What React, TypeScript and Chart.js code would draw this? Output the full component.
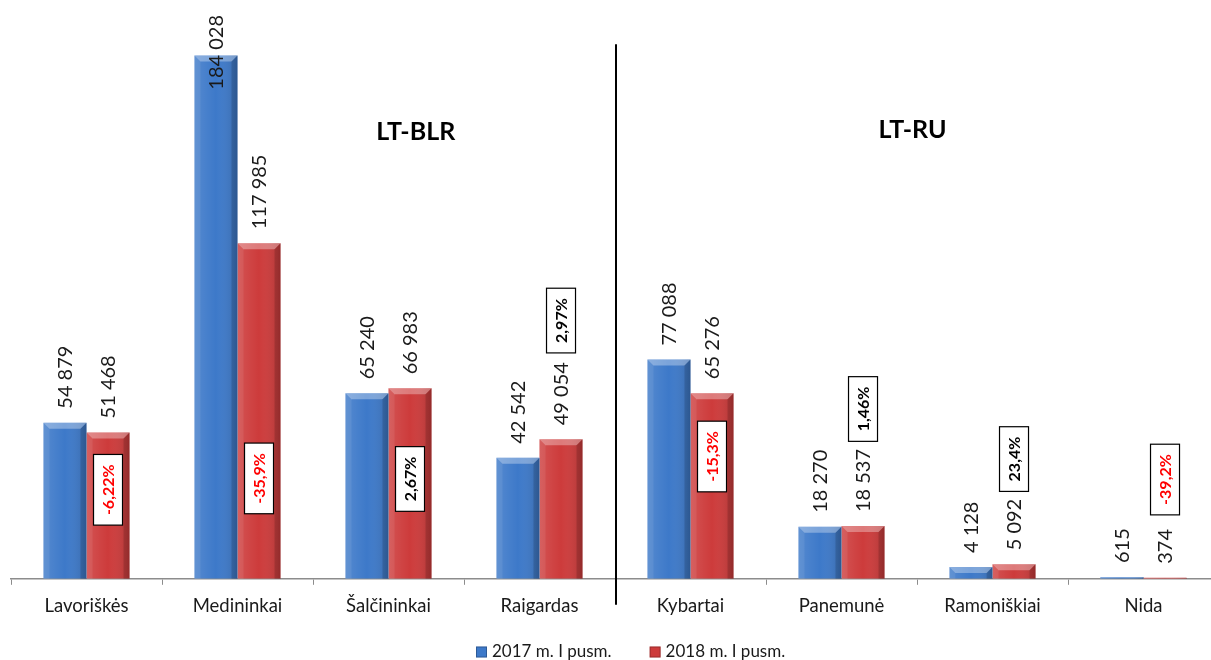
import { useEffect, useRef } from "react";
import { Chart, registerables } from "chart.js";

Chart.register(...registerables);

const categories = ["Lavoriškės", "Medininkai", "Šalčininkai", "Raigardas", "Kybartai", "Panemunė", "Ramoniškiai", "Nida"];
const series2017 = [54879, 184028, 65240, 42542, 77088, 18270, 4128, 615];
const series2018 = [51468, 117985, 66983, 49054, 65276, 18537, 5092, 374];
const changeLabels = ["-6,22%", "-35,9%", "2,67%", "2,97%", "-15,3%", "1,46%", "23,4%", "-39,2%"];
// value level at which each change box is centred
const changeAnchors = [31300, 35300, 35100, 90800, 43000, 59700, 42100, 34900];
const groupTitles = ["LT-BLR", "LT-RU"];
// category position (fractional index) and value level of group titles
const groupTitleAt = [2.18, 5.47];
const groupTitleLevel = [157000, 157700];
const legendLabels = ["2017 m. I pusm.", "2018 m. I pusm."];
const seriesColors = ["#3d79c9", "#cd3b3b"];

const FONT = "Lato, 'Open Sans', sans-serif";

const fmt = (n: number) => n.toString().replace(/\B(?=(\d{3})+(?!\d))/g, " ");

const decorPlugin = {
  id: "decor",
  afterDatasetsDraw(chart: any) {
    const ctx = chart.ctx as CanvasRenderingContext2D;
    const area = chart.chartArea;
    const xs = chart.scales.x;
    const ys = chart.scales.y;

    // bevel shading
    chart.data.datasets.forEach((_ds: any, di: number) => {
      const meta = chart.getDatasetMeta(di);
      meta.data.forEach((bar: any) => {
        const { x, y, base, width } = bar.getProps(["x", "y", "base", "width"], true);
        const l = x - width / 2;
        const r = x + width / 2;
        const h = base - y;
        if (h <= 0) return;
        const b = Math.min(6, h / 2);
        ctx.save();
        const g = ctx.createLinearGradient(l, 0, r, 0);
        g.addColorStop(0, "rgba(255,255,255,0.12)");
        g.addColorStop(0.5, "rgba(255,255,255,0)");
        g.addColorStop(1, "rgba(0,0,0,0.16)");
        ctx.fillStyle = g;
        ctx.fillRect(l, y, width, h);
        ctx.beginPath();
        ctx.moveTo(l, y);
        ctx.lineTo(r, y);
        ctx.lineTo(r - b, y + b);
        ctx.lineTo(l + b, y + b);
        ctx.closePath();
        ctx.fillStyle = "rgba(255,255,255,0.32)";
        ctx.fill();
        ctx.beginPath();
        ctx.moveTo(l, y);
        ctx.lineTo(l + b, y + b);
        ctx.lineTo(l + b, base);
        ctx.lineTo(l, base);
        ctx.closePath();
        ctx.fillStyle = "rgba(255,255,255,0.08)";
        ctx.fill();
        ctx.beginPath();
        ctx.moveTo(r, y);
        ctx.lineTo(r - b, y + b);
        ctx.lineTo(r - b, base);
        ctx.lineTo(r, base);
        ctx.closePath();
        ctx.fillStyle = "rgba(0,0,0,0.14)";
        ctx.fill();
        ctx.restore();
      });
    });

    // value labels (rotated)
    ctx.save();
    ctx.font = `20px ${FONT}`;
    ctx.fillStyle = "#1a1a1a";
    ctx.textAlign = "left";
    ctx.textBaseline = "middle";
    chart.data.datasets.forEach((ds: any, di: number) => {
      const meta = chart.getDatasetMeta(di);
      meta.data.forEach((bar: any, i: number) => {
        const { x, y } = bar.getProps(["x", "y"], true);
        const txt = fmt(ds.data[i]);
        const tw = ctx.measureText(txt).width;
        let yb = y - 14;
        if (yb - tw < area.top + 5) yb = area.top + 5 + tw;
        ctx.save();
        ctx.translate(x, yb);
        ctx.rotate(-Math.PI / 2);
        ctx.fillText(txt, 0, 1);
        ctx.restore();
      });
    });
    ctx.restore();

    // change boxes
    const meta2 = chart.getDatasetMeta(1);
    ctx.save();
    ctx.font = `bold 16px ${FONT}`;
    ctx.textAlign = "center";
    ctx.textBaseline = "middle";
    changeLabels.forEach((lbl, i) => {
      const bar = meta2.data[i];
      const { x } = bar.getProps(["x"], true);
      const cy = ys.getPixelForValue(changeAnchors[i]);
      const tw = ctx.measureText(lbl).width;
      const bh = tw + 20;
      const bw = 29;
      ctx.fillStyle = "#ffffff";
      ctx.fillRect(x - bw / 2, cy - bh / 2, bw, bh);
      ctx.strokeStyle = "#000000";
      ctx.lineWidth = 1.2;
      ctx.strokeRect(x - bw / 2, cy - bh / 2, bw, bh);
      ctx.save();
      ctx.translate(x, cy);
      ctx.rotate(-Math.PI / 2);
      ctx.fillStyle = lbl.startsWith("-") ? "#ff0000" : "#000000";
      ctx.fillText(lbl, 0, 1);
      ctx.restore();
    });
    ctx.restore();

    // separator line
    const sx = Math.round(xs.getPixelForValue(3.5)) + 1;
    ctx.save();
    ctx.strokeStyle = "#000000";
    ctx.lineWidth = 2;
    ctx.beginPath();
    ctx.moveTo(sx, ys.getPixelForValue(188000));
    ctx.lineTo(sx, area.bottom + 26);
    ctx.stroke();
    ctx.restore();

    // group titles
    ctx.save();
    ctx.font = `bold 25px ${FONT}`;
    ctx.fillStyle = "#000000";
    ctx.textAlign = "center";
    ctx.textBaseline = "middle";
    groupTitles.forEach((t, i) => {
      ctx.fillText(t, xs.getPixelForValue(groupTitleAt[i]), ys.getPixelForValue(groupTitleLevel[i]));
    });
    ctx.restore();

    // legend
    ctx.save();
    ctx.font = `17px ${FONT}`;
    ctx.textBaseline = "middle";
    ctx.textAlign = "left";
    const ly = 652;
    let lx = 476;
    legendLabels.forEach((t, i) => {
      ctx.fillStyle = seriesColors[i];
      ctx.fillRect(lx, ly - 5.5, 11, 11);
      ctx.strokeStyle = "rgba(0,0,0,0.25)";
      ctx.lineWidth = 1;
      ctx.strokeRect(lx + 0.5, ly - 5, 10, 10);
      ctx.fillStyle = "#1a1a1a";
      ctx.fillText(t, lx + 16, ly);
      lx += 16 + ctx.measureText(t).width + 38;
    });
    ctx.restore();
  },
};

export default function App() {
  const ref = useRef<HTMLCanvasElement | null>(null);
  useEffect(() => {
    if (!ref.current) return;
    const chart = new Chart(ref.current, {
      type: "bar",
      data: {
        labels: categories,
        datasets: [
          { label: legendLabels[0], data: series2017, backgroundColor: seriesColors[0], borderWidth: 0 },
          { label: legendLabels[1], data: series2018, backgroundColor: seriesColors[1], borderWidth: 0 },
        ],
      },
      options: {
        responsive: false,
        animation: false,
        layout: { padding: { left: 11, right: 6, top: 10, bottom: 33 } },
        datasets: { bar: { categoryPercentage: 0.57, barPercentage: 1 } },
        plugins: { legend: { display: false }, tooltip: { enabled: false } },
        scales: {
          x: {
            grid: { offset: true, drawOnChartArea: false, drawTicks: true, tickLength: 6, color: "#8c8c8c" },
            border: { color: "#8c8c8c", width: 1.5 },
            ticks: { font: { family: FONT, size: 18.5 }, color: "#1a1a1a", padding: 10, maxRotation: 0 },
          },
          y: { display: false, min: 0, max: 200000 },
        },
      },
      plugins: [decorPlugin],
    });
    return () => chart.destroy();
  }, []);
  return (
    <div style={{ position: "absolute", left: 0, top: 0, width: 1211, height: 660, overflow: "hidden", background: "#fff" }}>
      <canvas ref={ref} width={1225} height={660} style={{ display: "block" }} />
    </div>
  );
}
